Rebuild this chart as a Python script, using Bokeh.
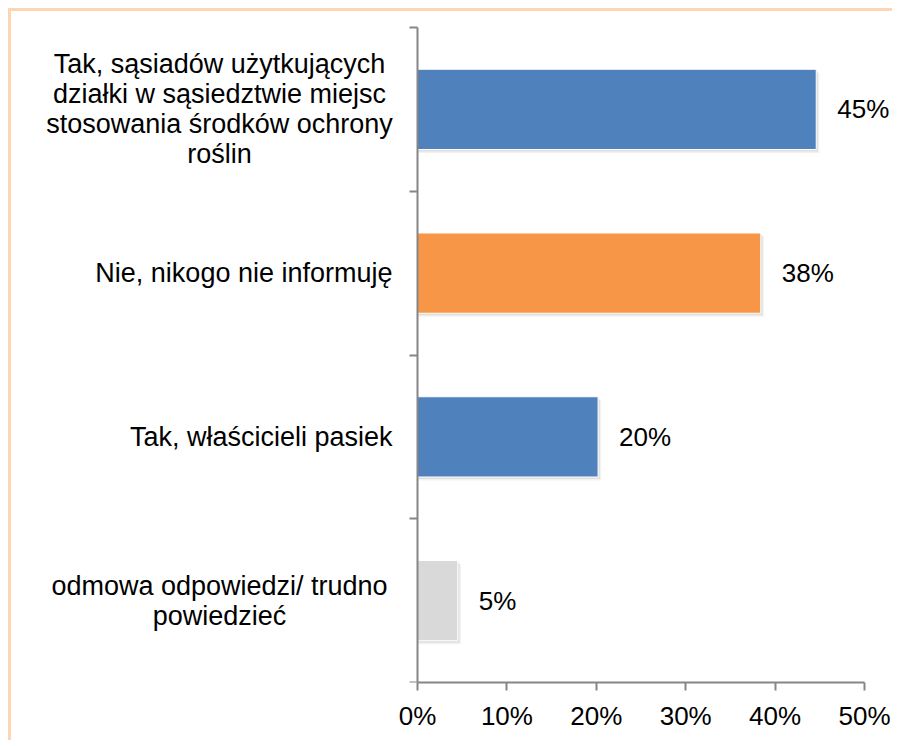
from bokeh.plotting import figure
from bokeh.models import Range1d, FixedTicker, ColumnDataSource
from bokeh.core.properties import value
from bokeh.embed import file_html
from bokeh.resources import INLINE

categories = [
    "Tak, sąsiadów użytkujących\ndziałki w sąsiedztwie miejsc\nstosowania środków ochrony\nroślin",
    "Nie, nikogo nie informuję",
    "Tak, właścicieli pasiek",
    "odmowa odpowiedzi/ trudno\npowiedzieć",
]
values = [44.6, 38.4, 20.2, 4.5]
value_labels = ["45%", "38%", "20%", "5%"]
colors = ["#4F81BD", "#F79646", "#4F81BD", "#D9D9D9"]
x_ticks = [0, 10, 20, 30, 40, 50]
x_tick_labels = ["0%", "10%", "20%", "30%", "40%", "50%"]

FONT = "Liberation Sans"
FS = "26px"
CAT_FS = "27px"
n = len(categories)
ypos = [n - 0.5 - i for i in range(n)]

# frame geometry (pixels)
W, H = 884, 732
LEFT, BOTTOM = 20, 61
PX_PER_UNIT = 8.94          # pixels per 1 % on x
ZERO_PX = 386               # position of 0 % inside the frame
Y_PX = 163.75               # pixels per category
frame_w = W - LEFT
frame_h = H - BOTTOM
x0 = -ZERO_PX / PX_PER_UNIT
x1 = x0 + frame_w / PX_PER_UNIT
y1 = frame_h / Y_PX

p = figure(width=W, height=H, output_backend="svg", toolbar_location=None,
           x_range=Range1d(x0, x1), y_range=Range1d(0, y1),
           min_border_left=LEFT, min_border_right=0, min_border_top=0, min_border_bottom=BOTTOM)
p.styles = {"border-top": "3px solid #FCD5B5", "border-left": "3px solid #FCD5B5",
            "margin-top": "8px", "margin-left": "8px"}
p.outline_line_color = None
p.xgrid.visible = False
p.ygrid.visible = False
p.background_fill_color = "white"
p.border_fill_color = "white"

src = ColumnDataSource(dict(y=ypos, v=values, c=colors, t=value_labels,
                            ys1=[y - 0.012 for y in ypos], ys2=[y - 0.022 for y in ypos],
                            vs1=[v + 0.2 for v in values], vs2=[v + 0.35 for v in values]))

# soft shadow
p.hbar(y="ys2", left=0, right="vs2", height=0.49, source=src, fill_color="black", fill_alpha=0.05, line_color=None)
p.hbar(y="ys1", left=0, right="vs1", height=0.49, source=src, fill_color="black", fill_alpha=0.08, line_color=None)
p.hbar(y="y", left=0, right="v", height=0.49, source=src, fill_color="c", line_color="white", line_width=1)

# value labels
p.text(x="v", y="y", text="t", source=src, x_offset=21, text_align="left",
       text_baseline="middle", text_font=value(FONT), text_font_size=value(FS), text_color="black")

# category labels
multi = [c for c in categories if "\n" in c]
single = [c for c in categories if "\n" not in c]
src_m = ColumnDataSource(dict(x=[0] * len(multi), y=[ypos[categories.index(c)] for c in multi], t=multi))
src_s = ColumnDataSource(dict(x=[0] * len(single), y=[ypos[categories.index(c)] for c in single], t=single))
p.text(x="x", y="y", text="t", source=src_m, x_offset=-198, text_align="center",
       text_baseline="middle", text_font=value(FONT), text_font_size=value(CAT_FS),
       text_color="black", text_line_height=1.0)
p.text(x="x", y="y", text="t", source=src_s, x_offset=-25, text_align="right",
       text_baseline="middle", text_font=value(FONT), text_font_size=value(CAT_FS), text_color="black")

# x axis
xa = p.xaxis[0]
xa.ticker = FixedTicker(ticks=x_ticks)
xa.bounds = (0, 50)
xa.major_label_overrides = {t: l for t, l in zip(x_ticks, x_tick_labels)}
xa.axis_line_color = "#868686"
xa.axis_line_width = 2
xa.major_tick_line_color = "#868686"
xa.major_tick_line_width = 2
xa.major_tick_in = 0
xa.major_tick_out = 8
xa.minor_tick_line_color = None
xa.major_label_text_font = FONT
xa.major_label_text_font_size = FS
xa.major_label_text_color = "black"
xa.major_label_standoff = 10

# y axis at x = 0, ticks at category boundaries
ya = p.yaxis[0]
ya.fixed_location = 0
ya.bounds = (0, n)
ya.ticker = FixedTicker(ticks=list(range(n + 1)))
ya.axis_line_color = "#868686"
ya.axis_line_width = 2
ya.major_tick_line_color = "#868686"
ya.major_tick_line_width = 2
ya.major_tick_in = 0
ya.major_tick_out = 8
ya.minor_tick_line_color = None
ya.major_label_overrides = {i: "" for i in range(n + 1)}
ya.major_label_standoff = 0

open("out.html", "w").write(file_html(p, INLINE))
